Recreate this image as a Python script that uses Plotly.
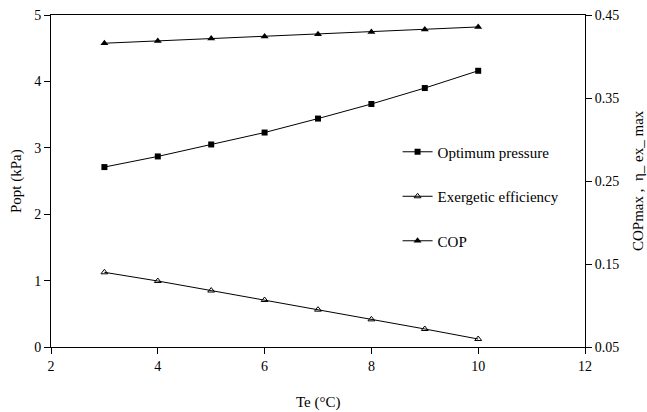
import plotly.graph_objects as go

te = [3, 4, 5, 6, 7, 8, 9, 10]
opt_pressure = [2.71, 2.87, 3.05, 3.23, 3.44, 3.66, 3.90, 4.16]
exergetic_eff = [0.140, 0.1295, 0.118, 0.1066, 0.095, 0.0833, 0.0717, 0.0596]
cop = [0.416, 0.4187, 0.4216, 0.424, 0.4268, 0.4296, 0.4324, 0.4356]

FONT = "Liberation Serif"

fig = go.Figure()
fig.add_trace(go.Scatter(x=te, y=opt_pressure, name="Optimum pressure", mode="lines+markers",
                         legendgroup="a",
                         line=dict(color="black", width=1),
                         marker=dict(symbol="square", size=6, color="black")))
fig.add_trace(go.Scatter(x=te, y=exergetic_eff, name="Exergetic efficiency", mode="lines+markers",
                         legendgroup="b",
                         yaxis="y2", line=dict(color="black", width=1),
                         marker=dict(symbol="triangle-up-open", size=6, color="black", line=dict(width=1))))
fig.add_trace(go.Scatter(x=te, y=cop, name="COP", mode="lines+markers",
                         legendgroup="c",
                         yaxis="y2", line=dict(color="black", width=1),
                         marker=dict(symbol="triangle-up", size=7, color="black")))

axis_common = dict(showline=True, linecolor="black", linewidth=1, ticks="outside",
                   ticklen=6, tickcolor="black", showgrid=False, zeroline=False,
                   automargin=False,
                   tickfont=dict(family=FONT, size=14, color="black"))

fig.update_layout(
    width=647, height=412,
    margin=dict(l=51, r=62, t=15, b=65),
    plot_bgcolor="white", paper_bgcolor="white",
    font=dict(family=FONT, size=14, color="black"),
    xaxis=dict(range=[2, 12], dtick=2, mirror=True, **axis_common),
    yaxis=dict(range=[0, 5], dtick=1, **axis_common),
    yaxis2=dict(range=[0.05, 0.45], dtick=0.1, tick0=0.05, tickformat=".2f",
                overlaying="y", side="right", **axis_common),
    legend=dict(x=0.649, y=0.637, xanchor="left", yanchor="top",
                bgcolor="rgba(0,0,0,0)", itemwidth=30, tracegroupgap=22,
                font=dict(family=FONT, size=15)),
    showlegend=True,
    annotations=[
        dict(text="Te (°C)", xref="paper", yref="paper", x=0.5, y=0, yshift=-55,
             showarrow=False, xanchor="center", yanchor="middle", font=dict(family=FONT, size=15)),
        dict(text="Popt (kPa)", xref="paper", yref="paper", x=0, y=0.5, xshift=-35,
             textangle=-90, showarrow=False, xanchor="center", yanchor="middle",
             font=dict(family=FONT, size=15)),
        dict(text="COPmax ,  η_ ex_ max", xref="paper", yref="paper", x=1, y=0.5, xshift=53,
             textangle=-90, showarrow=False, xanchor="center", yanchor="middle",
             font=dict(family=FONT, size=15)),
    ],
)

fig.write_html("out.html")
